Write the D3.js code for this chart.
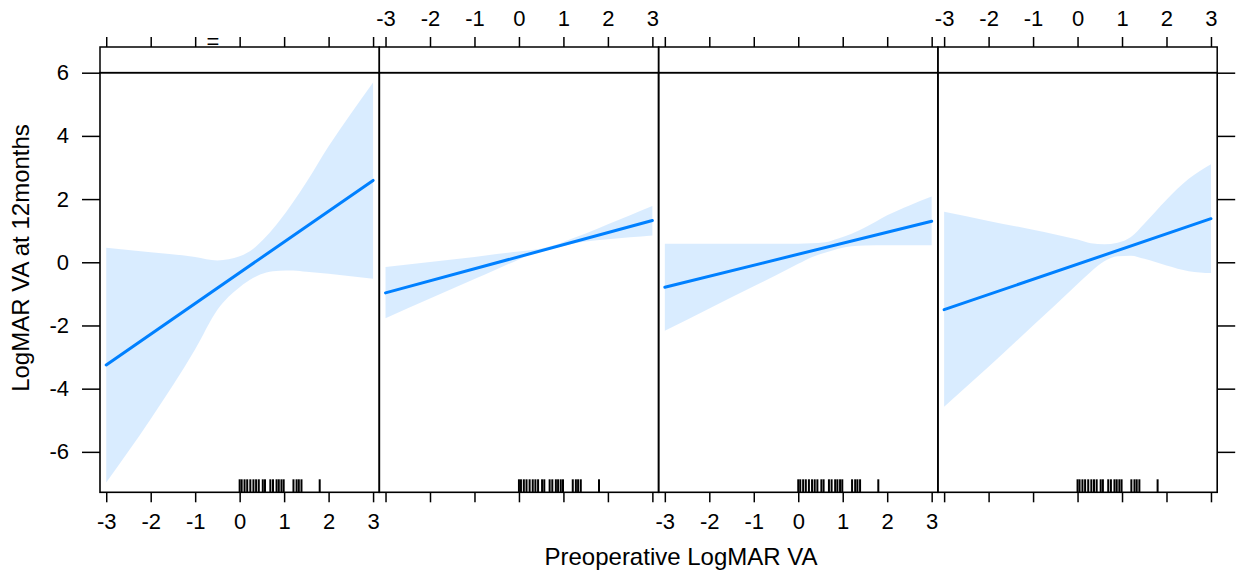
<!DOCTYPE html>
<html>
<head>
<meta charset="utf-8">
<script src="https://cdn.jsdelivr.net/npm/d3@7"></script>
<style>
  body { margin: 0; background: #fff; }
  svg text { font-family: "Liberation Sans", Arial, Helvetica, sans-serif; fill: #000; }
</style>
</head>
<body>
<div id="chart"></div>
<script>
// ---- data ----
var xTicks = [-3, -2, -1, 0, 1, 2, 3];
var yTicks = [-6, -4, -2, 0, 2, 4, 6];
var stripLabels = ["=", "", "", ""];

// fitted line end points (x = -3 and x = 3)
var fitX = [-3, 3];
var fit1 = [-3.25, 2.59];
var fit2 = [-0.97, 1.32];
var fit3 = [-0.79, 1.30];
var fit4 = [-1.50, 1.38];

// confidence bands, sampled at bandX
var bandX = [-3, -2, -1, -0.5, 0, 0.3, 0.6, 0.9, 1.2, 1.5, 2, 2.5, 3];
var upper1 = [0.46, 0.32, 0.17, 0.06, 0.19, 0.42, 0.82, 1.32, 1.90, 2.53, 3.67, 4.70, 5.69];
var lower1 = [-6.97, -4.96, -2.75, -1.50, -0.79, -0.50, -0.32, -0.27, -0.26, -0.30, -0.36, -0.44, -0.52];
var upper2 = [-0.15, 0.01, 0.17, 0.26, 0.34, 0.39, 0.47, 0.59, 0.75, 0.91, 1.20, 1.49, 1.78];
var lower2 = [-1.77, -1.15, -0.53, -0.22, 0.09, 0.27, 0.38, 0.48, 0.59, 0.66, 0.73, 0.79, 0.85];
var upper3 = [0.59, 0.59, 0.59, 0.59, 0.59, 0.60, 0.63, 0.75, 0.90, 1.10, 1.49, 1.80, 2.08];
var lower3 = [-2.17, -1.46, -0.76, -0.41, -0.05, 0.16, 0.30, 0.43, 0.51, 0.53, 0.54, 0.54, 0.54];
var upper4 = [1.60, 1.31, 1.03, 0.88, 0.72, 0.60, 0.57, 0.62, 0.80, 1.22, 1.98, 2.64, 3.10];
var lower4 = [-4.57, -3.31, -2.00, -1.35, -0.69, -0.30, 0.03, 0.19, 0.21, 0.11, -0.10, -0.28, -0.34];

// rug of observed preoperative values (same in every panel)
var rugX = [0, 0.045, 0.11, 0.17, 0.24, 0.31, 0.37, 0.43, 0.52, 0.57,
            0.69, 0.75, 0.83, 0.88, 0.94, 0.99, 1.21, 1.28, 1.33, 1.39, 1.80];

var fits = [fit1, fit2, fit3, fit4];
var uppers = [upper1, upper2, upper3, upper4];
var lowers = [lower1, lower2, lower3, lower4];

// ---- layout ----
var svgWidth = 1236;
var svgHeight = 572;

var plotLeft = 100;
var plotRight = 1217.2;
var panelTop = 72.7;      // also bottom of strip
var panelBottom = 492.3;
var stripTop = 47;
var panelW = (plotRight - plotLeft) / 4;

var blue = "#0080ff";

var svg = d3.select("#chart")
    .append("svg")
    .attr("width", svgWidth)
    .attr("height", svgHeight);

var yScale = d3.scaleLinear()
    .domain([-7.28, 6])
    .range([panelBottom, panelTop]);

fits.forEach(function(fit, i) {
    var left = plotLeft + i * panelW;
    var xScale = d3.scaleLinear()
        .domain([-3.14, 3.14])
        .range([left, left + panelW]);

    var g = svg.append("g");

    // band
    var bandData = bandX.map(function(x, k) {
        return { x: x, lo: lowers[i][k], hi: uppers[i][k] };
    });
    var area = d3.area()
        .x(d => xScale(d.x))
        .y0(d => yScale(d.lo))
        .y1(d => yScale(d.hi))
        .curve(d3.curveMonotoneX);
    g.append("path")
        .datum(bandData)
        .attr("d", area)
        .attr("fill", blue)
        .attr("fill-opacity", 0.15);

    // fitted line
    var line = d3.line()
        .x(d => xScale(d[0]))
        .y(d => yScale(d[1]));
    g.append("path")
        .datum(fitX.map((x, k) => [x, fit[k]]))
        .attr("d", line)
        .attr("fill", "none")
        .attr("stroke", blue)
        .attr("stroke-width", 3)
        .attr("stroke-linecap", "round");

    // rug
    g.selectAll(".rug")
        .data(rugX)
        .enter()
        .append("line")
        .attr("x1", d => xScale(d))
        .attr("x2", d => xScale(d))
        .attr("y1", panelBottom - 13)
        .attr("y2", panelBottom)
        .attr("stroke", "#000")
        .attr("stroke-width", 2);

    // bottom axis, labels on panels 1 and 3
    var bottomAxis = d3.axisBottom(xScale)
        .tickValues(xTicks)
        .tickSize(10)
        .tickPadding(11)
        .tickFormat(i % 2 === 0 ? d => String(d) : "");
    g.append("g")
        .attr("class", "axis")
        .attr("transform", `translate(0, ${panelBottom})`)
        .call(bottomAxis);

    // top axis, labels on panels 2 and 4
    var topAxis = d3.axisTop(xScale)
        .tickValues(xTicks)
        .tickSize(10)
        .tickPadding(11)
        .tickFormat(i % 2 === 1 ? d => String(d) : "");
    g.append("g")
        .attr("class", "axis")
        .attr("transform", `translate(0, ${stripTop})`)
        .call(topAxis);

    // strip
    g.append("rect")
        .attr("x", left)
        .attr("y", stripTop)
        .attr("width", panelW)
        .attr("height", panelTop - stripTop)
        .attr("fill", "none")
        .attr("stroke", "#000")
        .attr("stroke-width", 1.5);

    if (stripLabels[i]) {
        g.append("text")
            .attr("x", 213)
            .attr("y", 49)
            .attr("text-anchor", "middle")
            .attr("font-size", "22px")
            .text(stripLabels[i]);
    }

    // panel border
    g.append("rect")
        .attr("x", left)
        .attr("y", panelTop)
        .attr("width", panelW)
        .attr("height", panelBottom - panelTop)
        .attr("fill", "none")
        .attr("stroke", "#000")
        .attr("stroke-width", 1.6);
});

// y axes
var leftAxis = d3.axisLeft(yScale)
    .tickValues(yTicks)
    .tickSize(18)
    .tickPadding(13)
    .tickFormat(d => String(d));
svg.append("g")
    .attr("class", "axis")
    .attr("transform", `translate(${plotLeft}, 0)`)
    .call(leftAxis);

var rightAxis = d3.axisRight(yScale)
    .tickValues(yTicks)
    .tickSize(18)
    .tickFormat("");
svg.append("g")
    .attr("class", "axis")
    .attr("transform", `translate(${plotRight}, 0)`)
    .call(rightAxis);

svg.selectAll(".axis .domain").remove();
svg.selectAll(".axis .tick line")
    .attr("stroke", "#000")
    .attr("stroke-width", 1.5);
svg.selectAll(".axis text")
    .attr("font-size", "22px")
    .attr("font-family", null);

// axis titles
svg.append("text")
    .attr("x", 681)
    .attr("y", 565)
    .attr("text-anchor", "middle")
    .attr("font-size", "24px")
    .text("Preoperative LogMAR VA");

svg.append("text")
    .attr("transform", "translate(29, 258) rotate(-90)")
    .attr("text-anchor", "middle")
    .attr("font-size", "24px")
    .text("LogMAR VA at 12months");
</script>
</body>
</html>
